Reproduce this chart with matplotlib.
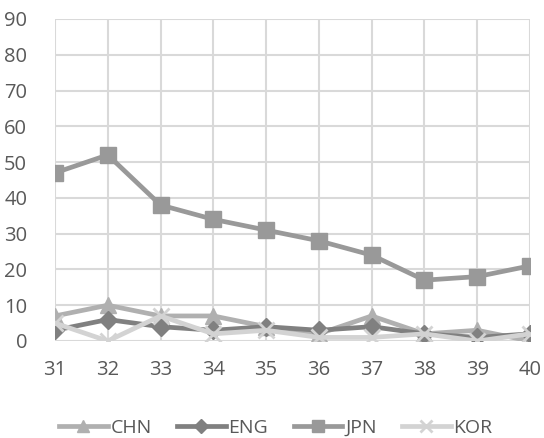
import numpy as np
import matplotlib.pyplot as plt

plt.rcParams['font.family'] = ['Open Sans', 'DejaVu Sans']

years = [31, 32, 33, 34, 35, 36, 37, 38, 39, 40]
chn = [7, 10, 7, 7, 4, 2, 7, 2, 3, 0]
eng = [3, 6, 4, 3, 4, 3, 4, 2, 1, 2]
jpn = [47, 52, 38, 34, 31, 28, 24, 17, 18, 21]
kor = [5, 0, 7, 2, 3, 1, 1, 2, 0, 2]

fig = plt.figure(figsize=(5.44, 4.38), dpi=100)
ax = fig.add_axes([55 / 544, 1 - 341 / 438, 475 / 544, 322 / 438])

ax.plot(years, chn, color='#b0b0b0', lw=3.4, marker='^', ms=11, label='CHN', zorder=3)
ax.plot(years, eng, color='#808080', lw=3.4, marker='D', ms=9, label='ENG', zorder=4)
ax.plot(years, jpn, color='#999999', lw=3.4, marker='s', ms=12, label='JPN', zorder=5)
ax.plot(years, kor, color='#d3d3d3', lw=3.4, marker='x', ms=11, mew=2, label='KOR', zorder=6)

ax.set_xlim(31, 40)
ax.set_ylim(0, 90)
ax.set_xticks(years)
ax.set_yticks(np.arange(0, 91, 10))
ax.grid(True, color='#d9d9d9', lw=1.5)
ax.set_axisbelow(True)
for s in ax.spines.values():
    s.set_visible(False)
ax.tick_params(length=0, labelsize=14.5, labelcolor='#595959')
ax.tick_params(axis='x', pad=14)
ax.tick_params(axis='y', pad=20)

leg = fig.legend(loc='center', bbox_to_anchor=(0.507, 1 - 428 / 438), ncol=4, frameon=False,
                 fontsize=14, labelcolor='#595959', handlelength=2.5, columnspacing=1.3,
                 handletextpad=0.15, markerscale=0.75)

fig.savefig('out.png', dpi=100)
